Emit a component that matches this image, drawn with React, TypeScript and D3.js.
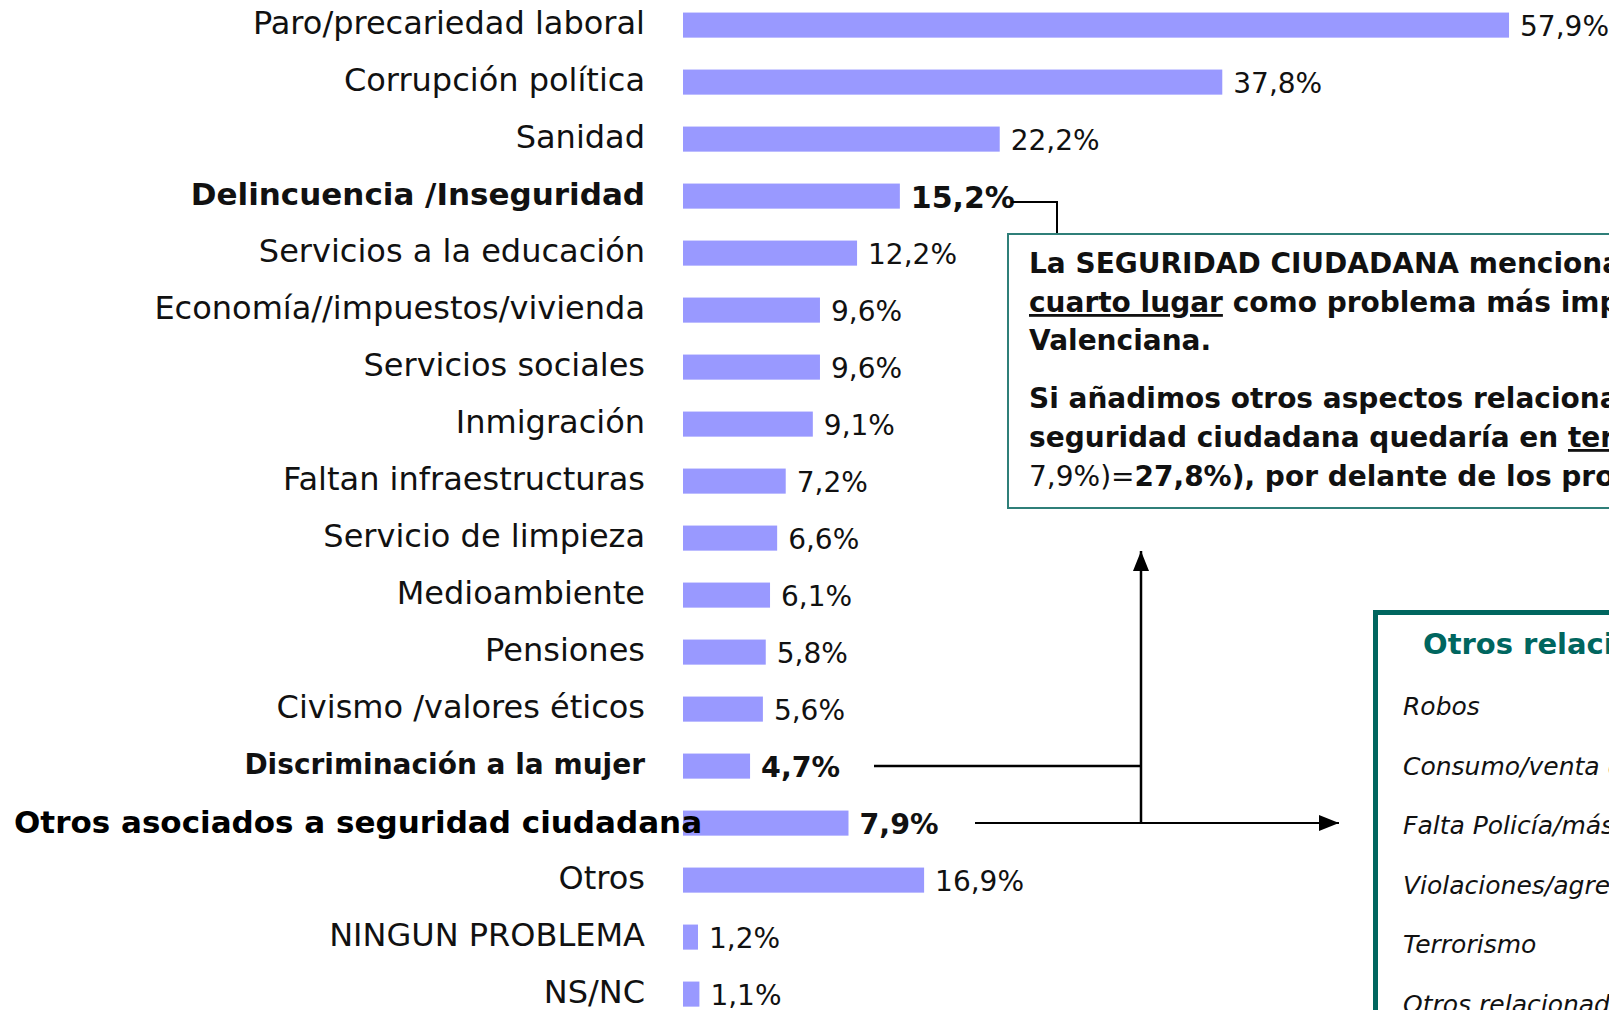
import React from 'react';
import * as d3 from 'd3';

// problemas mencionados (respuesta múltiple)
const categories = [
  'Paro/precariedad laboral',
  'Corrupción política',
  'Sanidad',
  'Delincuencia /Inseguridad',
  'Servicios a la educación',
  'Economía//impuestos/vivienda',
  'Servicios sociales',
  'Inmigración',
  'Faltan infraestructuras',
  'Servicio de limpieza',
  'Medioambiente',
  'Pensiones',
  'Civismo /valores éticos',
  'Discriminación a la mujer',
  'Otros asociados a seguridad ciudadana',
  'Otros',
  'NINGUN PROBLEMA',
  'NS/NC',
];

// longitud de barra
const values = [57.9, 37.8, 22.2, 15.2, 12.2, 9.6, 9.6, 9.1, 7.2, 6.6, 6.1, 5.8, 5.6, 4.7, 11.6, 16.9, 1.05, 1.15];

const valueLabels = ['57,9%', '37,8%', '22,2%', '15,2%', '12,2%', '9,6%', '9,6%', '9,1%', '7,2%', '6,6%', '6,1%', '5,8%', '5,6%', '4,7%', '7,9%', '16,9%', '1,2%', '1,1%'];

const boldRows = ['Delincuencia /Inseguridad', 'Discriminación a la mujer', 'Otros asociados a seguridad ciudadana'];

const otrosTitle = 'Otros relacionados con la seguridad';
const otrosItems = [
  'Robos',
  'Consumo/venta de drogas',
  'Falta Policía/más vigilancia',
  'Violaciones/agresiones sexuales',
  'Terrorismo',
  'Otros relacionados',
];

const W = 1609, H = 1010;
const FONT = '"DejaVu Sans", sans-serif';
const BAR = '#9999ff';
const TEAL = '#2f7f79';
const TEAL_DARK = '#00665f';

export default function App() {
  const x = d3.scaleLinear().domain([0, 60]).range([683, 683 + 856]);
  const y = d3.scaleBand<string>()
    .domain(categories)
    .range([-3.4, -3.4 + 18 * 57])
    .paddingInner(0.56)
    .paddingOuter(0.28);

  const cy = (c: string) => (y(c) as number) + y.bandwidth() / 2;
  const endX = (i: number) => x(values[i]);

  const delinc = categories[3];
  const discr = categories[13];
  const otrosAs = categories[14];

  // connector from 15,2% to the text box
  const connX = 1057;
  const boxTop = 234;
  const arrowX = 1141;

  const labelSize = (c: string) => {
    if (c === delinc) return 31;
    if (c === discr) return 28;
    return 32;
  };

  return (
    <div style={{ position: 'absolute', left: 0, top: 0, width: W, height: H, overflow: 'hidden', background: '#fff' }}>
      <svg width={W} height={H} style={{ display: 'block', fontFamily: FONT }}>
        <defs>
          <marker id="arrBig" viewBox="0 0 10 10" refX="10" refY="5" markerWidth="20" markerHeight="20" orient="auto" markerUnits="userSpaceOnUse">
            <path d="M0,1 L10,5 L0,9 z" fill="#000" />
          </marker>
        </defs>

        {/* bars */}
        {categories.map((c, i) => (
          <rect key={c} x={x(0)} y={y(c)} width={x(values[i]) - x(0)} height={y.bandwidth()} fill={BAR} />
        ))}

        {/* category labels */}
        {categories.map((c) => {
          const bold = boldRows.includes(c);
          if (c === otrosAs) {
            return (
              <text key={c} x={14} y={cy(c) - 1} dominantBaseline="central" fontSize={31} fontWeight="bold" fill="#000">{c}</text>
            );
          }
          return (
            <text key={c} x={645} y={cy(c) - 2} textAnchor="end" dominantBaseline="central"
              fontSize={labelSize(c)} fontWeight={bold ? 'bold' : 'normal'} fill="#111">{c}</text>
          );
        })}

        {/* value labels */}
        {categories.map((c, i) => {
          const bold = boldRows.includes(c);
          return (
            <text key={c} x={endX(i) + 11} y={cy(c) + 1} dominantBaseline="central"
              fontSize={c === delinc ? 30 : bold ? 28.5 : 28} fontWeight={bold ? 'bold' : 'normal'} fill="#111">{valueLabels[i]}</text>
          );
        })}

        {/* 15,2% -> box */}
        <polyline points={`${endX(3) + 111},${cy(delinc) + 6} ${connX},${cy(delinc) + 6} ${connX},${boxTop}`}
          fill="none" stroke="#000" strokeWidth={2} />

        {/* text box */}
        <rect x={1008} y={boxTop} width={700} height={274} fill="#fff" stroke={TEAL} strokeWidth={2} />
        <g fontSize={28} fontWeight="bold" fill="#111">
          <text x={1029} y={273}>La SEGURIDAD CIUDADANA mencionada en</text>
          <text x={1029} y={312}>
            <tspan style={{ textDecoration: 'underline' }}>cuarto lugar</tspan> como problema más importante de la Comunidad
          </text>
          <text x={1029} y={350}>Valenciana.</text>
          <text x={1029} y={408}>Si añadimos otros aspectos relacionados con la</text>
          <text x={1029} y={447}>
            seguridad ciudadana quedaría en <tspan style={{ textDecoration: 'underline' }}>tercer lugar</tspan> (15,2% + 4,7% +
          </text>
          <text x={1029} y={486}>
            <tspan fontWeight="normal">7,9%)=</tspan>27,8%), por delante de los problemas
          </text>
        </g>

        {/* arrows */}
        <line x1={874} y1={cy(discr)} x2={arrowX} y2={cy(discr)} stroke="#000" strokeWidth={2.5} />
        <line x1={arrowX} y1={cy(otrosAs)} x2={arrowX} y2={551} stroke="#000" strokeWidth={2.5} markerEnd="url(#arrBig)" />
        <line x1={975} y1={cy(otrosAs)} x2={1339} y2={cy(otrosAs)} stroke="#000" strokeWidth={2} markerEnd="url(#arrBig)" />

        {/* otros relacionados box */}
        <rect x={1375.5} y={612.5} width={400} height={500} fill="#fff" stroke={TEAL_DARK} strokeWidth={5} />
        <text x={1423} y={654} fontSize={29} fontWeight="bold" fill={TEAL_DARK}>{otrosTitle}</text>
        {otrosItems.map((t, i) => (
          <text key={t} x={1403} y={715 + i * 59.6} fontSize={25} fontStyle="italic" fill="#111">{t}</text>
        ))}
      </svg>
    </div>
  );
}
